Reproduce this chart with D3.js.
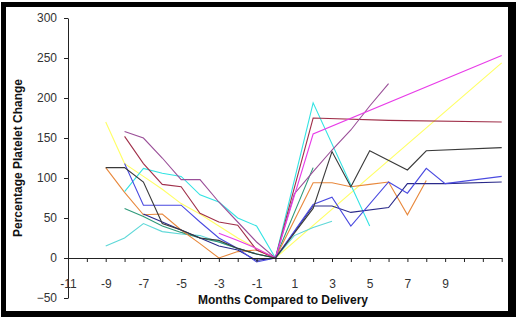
<!DOCTYPE html>
<html>
<head>
<meta charset="utf-8">
<script src="https://cdn.jsdelivr.net/npm/d3@7"></script>
<style>
  html, body { margin: 0; padding: 0; background: #fff; }
  #container { width: 520px; height: 319px; }
  text { font-family: "Liberation Sans", Arial, sans-serif; }
</style>
</head>
<body>
<div id="container"></div>
<script>
// tick labels
const xTickValues = d3.range(-11, 13);
const xTickLabels = [-11, -9, -7, -5, -3, -1, 1, 3, 5, 7, 9];
const yTickValues = [-50, 0, 50, 100, 150, 200, 250, 300];

// each patient: [month, % platelet change]
const yellowSeries = [[-9,170],[-8,118],[-7,102],[-6,86],[-5,68],[-4,55],[-3,40],[-2,25],[-1,12],[0,0],[12,244]];
const mauveSeries = [[-8,158],[-7,150],[-6,125],[-5,98],[-4,98],[-3,70],[-2,45],[-1,20],[0,0],[1,80],[2,108],[3,135],[4,160],[5,190],[6,218]];
const maroonSeries = [[-8,152],[-7,118],[-6,92],[-5,89],[-4,56],[-3,45],[-2,41],[-1,10],[0,0],[2,175],[6,172],[12,170]];
const cyanSeries = [[-8,83],[-7,112],[-6,106],[-5,102],[-4,79],[-3,70],[-2,50],[-1,40],[0,0],[2,194],[5,40]];
const turquoiseSeries = [[-9,15],[-8,25],[-7,43],[-6,33],[-5,30],[-4,28],[-3,20],[-2,12],[-1,5],[0,0],[1,28],[2,38],[3,46]];
const greenSeries = [[-8,62],[-7,52],[-6,40],[-5,32],[-4,25],[-3,20],[-2,12],[-1,5],[0,0],[2,113]];
const orangeSeries = [[-9,113],[-8,82],[-7,54],[-6,55],[-5,35],[-4,18],[-3,0],[-2,8],[-1,10],[0,0],[2,94],[3,94],[4,89],[5,92],[6,95],[7,54],[8,97]];
const blackSeries = [[-9,113],[-8,113],[-7,95],[-6,43],[-5,35],[-4,25],[-3,22],[-2,12],[-1,5],[0,0],[2,62],[3,133],[4,89],[5,134],[7,110],[8,134],[12,138]];
const blueSeries = [[-8,118],[-7,66],[-6,66],[-5,66],[-4,45],[-3,25],[-2,12],[-1,-5],[0,0],[2,67],[3,76],[4,40],[6,95],[7,81],[8,112],[9,93],[12,102]];
const navySeries = [[-7,55],[-6,45],[-5,35],[-4,25],[-3,15],[-2,10],[-1,-3],[0,0],[2,65],[3,65],[4,57],[6,63],[7,93],[9,93],[12,95]];
const magentaSeries = [[-3,31],[-2,22],[-1,12],[0,0],[2,155],[12,253]];

const seriesList = [
  {data: yellowSeries, color: "#ffff66"},
  {data: turquoiseSeries, color: "#5fd8d8"},
  {data: greenSeries, color: "#2f9a7a"},
  {data: orangeSeries, color: "#e8883c"},
  {data: cyanSeries, color: "#33e3e3"},
  {data: maroonSeries, color: "#a0304a"},
  {data: mauveSeries, color: "#9a4f98"},
  {data: magentaSeries, color: "#e83ce8"},
  {data: navySeries, color: "#2a2a8a"},
  {data: blueSeries, color: "#4a4ae0"},
  {data: blackSeries, color: "#3a3a3a"},
];

const W = 520, H = 319;

const svg = d3.select("#container")
  .append("svg")
  .attr("width", W)
  .attr("height", H);

// black frame
svg.append("rect")
  .attr("x", 1).attr("y", 2)
  .attr("width", 515).attr("height", 315)
  .attr("fill", "#000");
svg.append("rect")
  .attr("x", 6).attr("y", 7)
  .attr("width", 502).attr("height", 304)
  .attr("fill", "#fff");

const x = d3.scaleLinear()
  .domain([-11, 12])
  .range([68, 501.7]);

const y = d3.scaleLinear()
  .domain([-50, 300])
  .range([298, 18]);

const line = d3.line()
  .x(d => x(d[0]))
  .y(d => y(d[1]));

seriesList.forEach(s => {
  svg.append("path")
    .datum(s.data)
    .attr("fill", "none")
    .attr("stroke", s.color)
    .attr("stroke-width", 1.1)
    .attr("d", line);
});

// y axis
const yAxis = svg.append("g")
  .attr("transform", `translate(${x(-11)},0)`)
  .call(d3.axisLeft(y).tickValues(yTickValues).tickSize(4).tickSizeOuter(0).tickPadding(7));

// x axis along zero
const xAxis = svg.append("g")
  .attr("transform", `translate(0,${y(0)})`)
  .call(d3.axisBottom(x)
    .tickValues(xTickValues)
    .tickSize(4)
    .tickSizeOuter(0)
    .tickPadding(17.5)
    .tickFormat(d => xTickLabels.includes(d) ? d : ""));

[yAxis, xAxis].forEach(a => {
  a.select(".domain").attr("stroke", "#222");
  a.selectAll(".tick line").attr("stroke", "#222");
  a.selectAll(".tick text")
    .attr("fill", "#333")
    .style("font-size", "12px")
    .style("font-family", "'Liberation Sans', Arial, sans-serif");
});

svg.append("text")
  .attr("x", 283)
  .attr("y", 304)
  .attr("text-anchor", "middle")
  .style("font-size", "12px")
  .style("font-weight", "bold")
  .attr("fill", "#111")
  .text("Months Compared to Delivery");

svg.append("text")
  .attr("transform", "translate(22,158) rotate(-90)")
  .attr("text-anchor", "middle")
  .style("font-size", "12px")
  .style("font-weight", "bold")
  .attr("fill", "#111")
  .text("Percentage Platelet Change");
</script>
</body>
</html>
